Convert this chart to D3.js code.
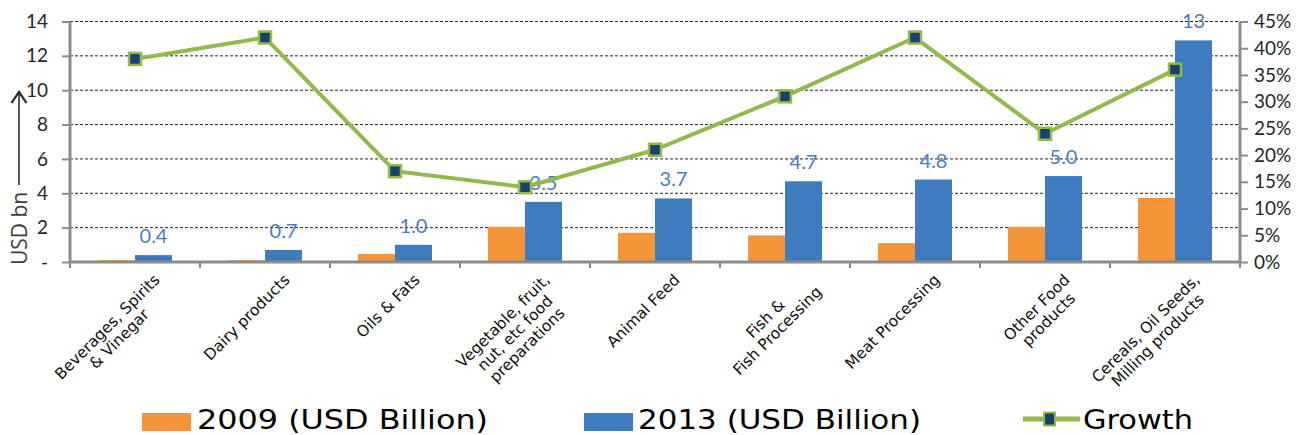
<!DOCTYPE html>
<html><head><meta charset="utf-8">
<script src="https://cdn.jsdelivr.net/npm/d3@7"></script>
<style>
body{margin:0;background:#fff;}
svg{display:block;}
</style></head>
<body><svg id="c" width="1296" height="435"></svg>
<script>
const categories = ["Beverages, Spirits\n& Vinegar","Dairy products","Oils & Fats","Vegetable, fruit,\nnut, etc food\npreparations","Animal Feed","Fish &\nFish Processing","Meat Processing","Other Food\nproducts","Cereals, Oil Seeds,\nMilling products"];
const values2009 = [0.1,0.1,0.47,2.05,1.7,1.55,1.1,2.05,3.73];
const values2013 = [0.4,0.7,1.0,3.5,3.7,4.7,4.8,5.0,12.9];
const growth = [0.38,0.42,0.17,0.14,0.21,0.31,0.42,0.24,0.36];
const leftTicks = [0,2,4,6,8,10,12,14];
const rightTicks = [0,0.05,0.10,0.15,0.20,0.25,0.30,0.35,0.40,0.45];
const seriesNames = ["2009 (USD Billion)","2013 (USD Billion)","Growth"];

const C_OR="#F5953A", C_BL="#3F7BBF", C_GR="#93B94A", C_NAVY="#17416F", C_AX="#8C8C8C", C_LBL="#4A7EC0";
const svg=d3.select("#c");
const L=70,R=1240,T=21.5,B=262;
const x=d3.scaleBand().domain(categories).range([L,R]).padding(0);
const y=d3.scaleLinear().domain([0,14]).range([B,T]);
const y2=d3.scaleLinear().domain([0,0.45]).range([B,T]);
const bw=37;

// gridlines
svg.append("g").selectAll("line").data(leftTicks.filter(d=>d>0)).join("line")
 .attr("x1",L).attr("x2",R).attr("y1",d=>y(d)).attr("y2",d=>y(d))
 .attr("stroke","#222").attr("stroke-width",1).attr("stroke-dasharray","3,2");

// bars
const bars=svg.append("g");
categories.forEach((c,i)=>{
  const cx=x(c)+x.bandwidth()/2;
  bars.append("rect").attr("x",cx-bw).attr("width",bw).attr("y",y(values2009[i])).attr("height",B-y(values2009[i])).attr("fill",C_OR);
  bars.append("rect").attr("x",cx).attr("width",bw).attr("y",y(values2013[i])).attr("height",B-y(values2013[i])).attr("fill",C_BL);
  const fmt=values2013[i]>=10?d3.format(".0f"):d3.format(".1f");
  bars.append("text").attr("x",cx+bw/2).attr("y",y(values2013[i])-12).attr("text-anchor","middle")
   .attr("font-family","Lato, 'Open Sans', sans-serif").attr("font-size",20).attr("fill",C_LBL).text(fmt(values2013[i]));
});

// axes
const leftAxis=d3.axisLeft(y).tickValues(leftTicks).tickSize(8).tickPadding(14).tickFormat(d=>d===0?"-":d);
const gl=svg.append("g").attr("transform",`translate(${L},0)`).call(leftAxis);
const rightAxis=d3.axisRight(y2).tickValues(rightTicks).tickSize(8).tickPadding(6).tickFormat(d3.format(".0%"));
const gr=svg.append("g").attr("transform",`translate(${R},0)`).call(rightAxis);
const xAxis=d3.axisBottom(x).tickSize(0).tickFormat("");
const gx=svg.append("g").attr("transform",`translate(0,${B})`).call(xAxis);
gx.selectAll("line.bt").data(d3.range(categories.length+1)).join("line").attr("class","bt")
 .attr("x1",i=>L+i*x.step()).attr("x2",i=>L+i*x.step()).attr("y1",0).attr("y2",6).attr("stroke",C_AX).attr("stroke-width",2);
[gl,gr,gx].forEach(g=>{
  g.select(".domain").attr("stroke",C_AX).attr("stroke-width",3);
  g.selectAll(".tick line").attr("stroke",C_AX).attr("stroke-width",2);
  g.selectAll(".tick text").attr("font-family","Lato, 'Open Sans', sans-serif").attr("font-size",19).attr("fill","#262626");
});
gl.select(".domain").attr("d",`M0,${T}V${B}`);
gr.select(".domain").attr("d",`M0,${T}V${B}`);
gx.select(".domain").attr("d",`M${L},0H${R}`);

// growth line
const line=d3.line().x((d,i)=>x(categories[i])+x.bandwidth()/2).y(d=>y2(d));
svg.append("path").datum(growth).attr("d",line).attr("fill","none").attr("stroke",C_GR).attr("stroke-width",4);
svg.append("g").selectAll("rect").data(growth).join("rect")
 .attr("x",(d,i)=>x(categories[i])+x.bandwidth()/2-6).attr("y",d=>y2(d)-6).attr("width",12).attr("height",12)
 .attr("fill",C_NAVY).attr("stroke",C_GR).attr("stroke-width",2.5);

// category labels
const lg=svg.append("g");
categories.forEach(c=>{
  const cx=x(c)+x.bandwidth()/2;
  const g=lg.append("g").attr("transform",`translate(${cx+17},${272}) rotate(-45)`);
  const lines=c.split("\n");
  const ts=lines.map((s,j)=>g.append("text").attr("y",j*17).attr("dy","0.8em").attr("font-family","'DejaVu Sans', sans-serif").attr("font-size",15.5).attr("fill","#111").text(s));
  const w=d3.max(ts,t=>t.node().getComputedTextLength());
  ts.forEach(t=>t.attr("x",-w/2).attr("text-anchor","middle"));
});

// y axis title with arrow
const yt=svg.append("g").attr("transform","translate(27,265) rotate(-90)");
yt.append("text").attr("x",0).attr("y",0).attr("font-family","'Open Sans', sans-serif").attr("font-size",21).attr("fill","#404040").text("USD bn");
yt.append("line").attr("x1",80).attr("x2",172).attr("y1",-8).attr("y2",-8).attr("stroke","#222").attr("stroke-width",1.5);
yt.append("path").attr("d","M162,-15.5 L173,-8 L162,-0.5").attr("fill","none").attr("stroke","#222").attr("stroke-width",2.2);

// legend
const leg=svg.append("g").attr("font-family","'DejaVu Sans', sans-serif").attr("font-size",27).attr("fill","#000");
leg.append("rect").attr("x",142).attr("y",413).attr("width",49).attr("height",18).attr("fill",C_OR);
leg.append("text").attr("x",197).attr("y",429).attr("textLength",291).attr("lengthAdjust","spacingAndGlyphs").text(seriesNames[0]);
leg.append("rect").attr("x",584).attr("y",413).attr("width",49).attr("height",18).attr("fill",C_BL);
leg.append("text").attr("x",638).attr("y",429).attr("textLength",283).attr("lengthAdjust","spacingAndGlyphs").text(seriesNames[1]);
leg.append("line").attr("x1",1023).attr("x2",1080).attr("y1",419).attr("y2",419).attr("stroke",C_GR).attr("stroke-width",5);
leg.append("rect").attr("x",1044).attr("y",412.5).attr("width",11).attr("height",13).attr("fill",C_NAVY).attr("stroke",C_GR).attr("stroke-width",2);
leg.append("text").attr("x",1083).attr("y",429).attr("textLength",110).attr("lengthAdjust","spacingAndGlyphs").text(seriesNames[2]);
</script></body></html>
